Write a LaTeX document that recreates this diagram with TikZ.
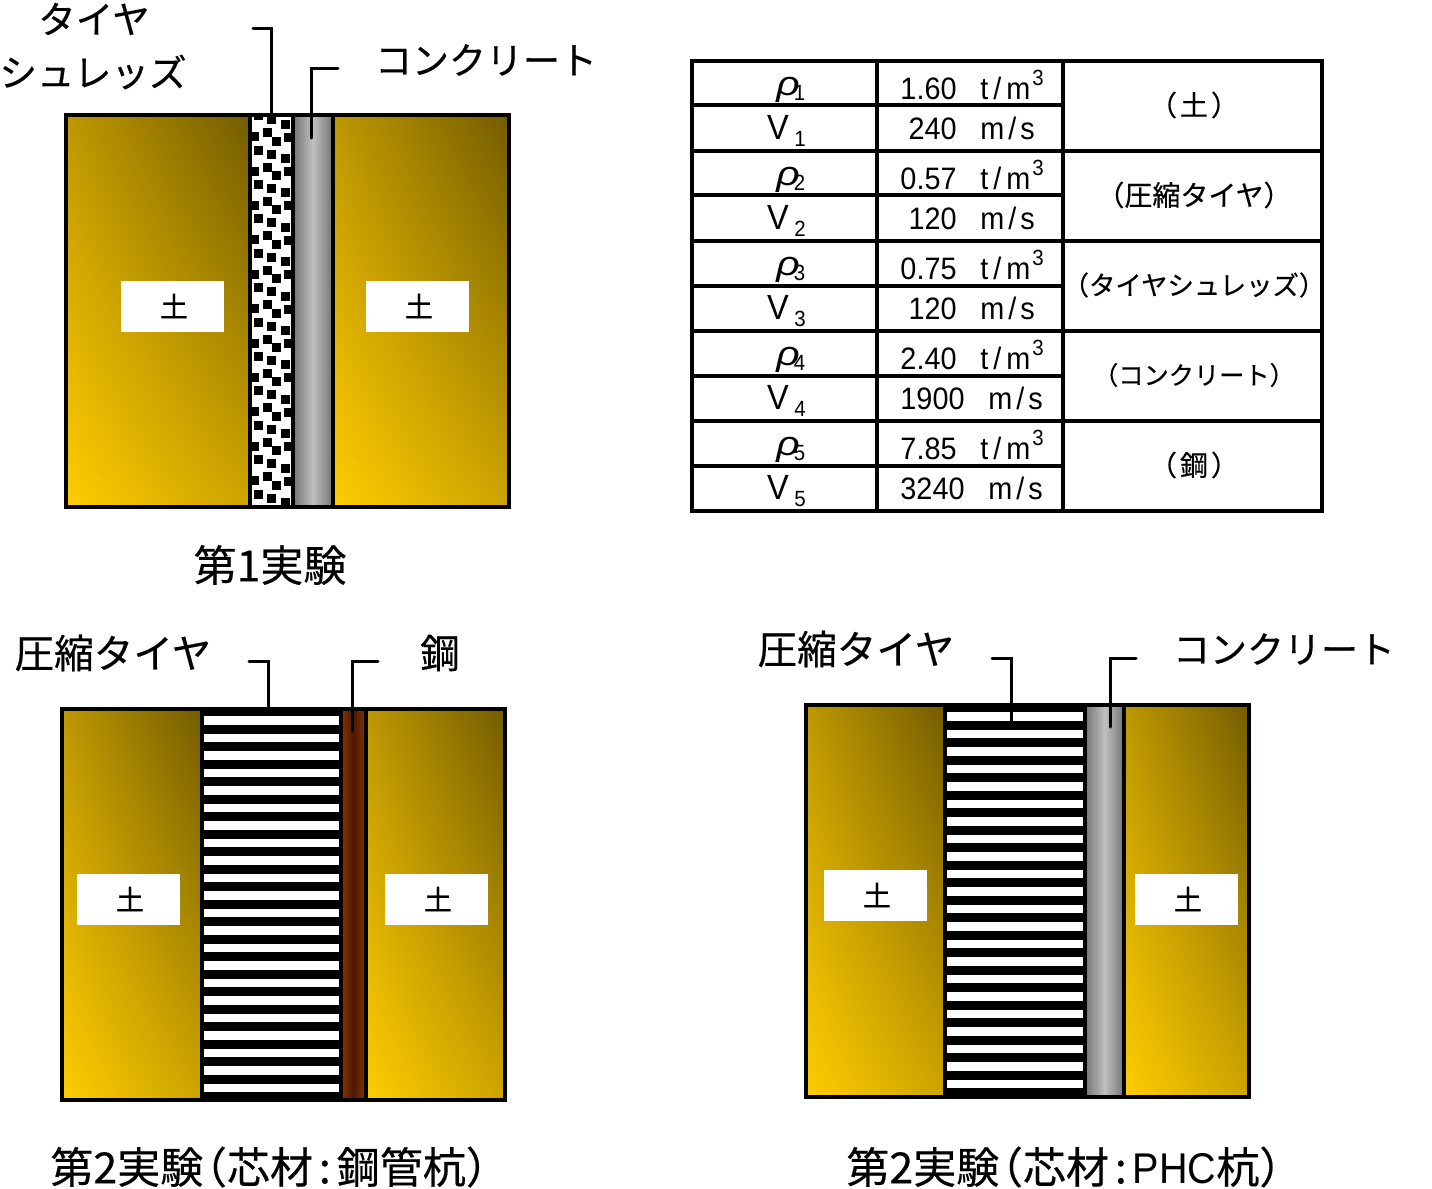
\documentclass[tikz,border=0pt]{standalone}
\usepackage{fontspec}
\usepackage{graphicx}
\usetikzlibrary{shadings}
\setmainfont{Liberation Sans}
\newfontfamily\narrowf[FakeStretch=0.93]{Liberation Sans}
\newfontfamily\phcf[FakeStretch=0.92]{Liberation Sans}
\newfontfamily\jp[RawFeature={embolden=0.4}]{Noto Sans CJK JP}
\definecolor{sLL}{RGB}{255,204,0}
\definecolor{sUR}{RGB}{115,92,0}
\definecolor{sUL}{RGB}{190,152,0}
\definecolor{sLR}{RGB}{205,164,0}
\definecolor{cEdge}{RGB}{115,115,115}
\definecolor{cMid}{RGB}{192,192,192}
\definecolor{stA}{RGB}{140,50,0}
\definecolor{stB}{RGB}{75,25,5}
\newcommand{\tuchi}{\kern2pt\raisebox{-1pt}{土}}
\newcommand{\jfs}[1]{\fontsize{#1pt}{16pt}\selectfont}
\begin{document}
\begin{tikzpicture}[x=0.5pt,y=-0.5pt,
  soil/.style={draw=black,line width=1.65pt},
  lead/.style={draw=black,line width=1.5pt,line cap=round},
  outl/.style={draw=black,line width=1.65pt},
  lab/.style={font=\jp\fontsize{18.8pt}{22pt}\selectfont,inner sep=0pt,anchor=center},
  labb/.style={font=\jp\fontsize{19.8pt}{22pt}\selectfont,inner sep=0pt,anchor=center},
  capt/.style={font=\jp\fontsize{21.5pt}{24pt}\selectfont,inner sep=0pt},
  soilbox/.style={fill=white,minimum width=51.5pt,minimum height=25.5pt,inner sep=0pt,font=\jp\fontsize{14pt}{16pt}\selectfont},
  cellt/.style={font=\narrowf\fontsize{15.5pt}{17pt}\selectfont,inner sep=0pt,anchor=base},
  smalld/.style={font=\narrowf\fontsize{11pt}{12pt}\selectfont,inner sep=0pt,anchor=base},
  jpt/.style={font=\jp,inner sep=0pt,anchor=center},
  rule/.style={draw=black,line width=1.65pt}
]
\useasboundingbox (0,0) rectangle (1432,1189);
\newcommand{\soilLR}[4]{\shade[shading=bilinear interpolation,lower left=sLL,upper right=sUR,upper left=sUL,lower right=sLR] (#1,#2) rectangle (#3,#4);\draw[soil] (#1,#2) rectangle (#3,#4);}
\newcommand{\conc}[4]{\shade[left color=cEdge,right color=cEdge,middle color=cMid] (#1,#2) rectangle (#3,#4);\draw[outl] (#1,#2) rectangle (#3,#4);}
% Panel 1
\soilLR{66}{115}{250}{507}
\soilLR{333}{115}{509}{507}
\fill[white] (250,115) rectangle (293,507);
\begin{scope}
\clip (250,115) rectangle (293,507);
\foreach \r in {-1,0,...,11}{
 \foreach \dx/\dy in {267/132.7,276/141,254/136.7,288/137,258/150,271.7/154,285/158.5}{
   \fill[black] (\dx-4.5,\dy+34.4*\r-4.5) rectangle +(9,9);
 }}
\end{scope}
\draw[outl] (250,115) rectangle (293,507);
\conc{293}{115}{333}{507}
\node[soilbox] (s1) at (172,306) {\tuchi};
\node[soilbox] (s2) at (417,306) {\tuchi};
\coordinate (a1) at (253,28);\coordinate (a2) at (271,28);\coordinate (a3) at (271,122);
\draw[lead] (a1)--(a2)--(a3);
\coordinate (b1) at (338,68);\coordinate (b2) at (311,68);\coordinate (b3) at (311,138);
\draw[lead] (b1)--(b2)--(b3);
\node[lab] (t1) at (94,19) {タイヤ};
\node[lab] (t2) at (93,72) {シュレッズ};
\node[lab,font=\jp\fontsize{18.5pt}{22pt}\selectfont] (t3) at (486,60) {コンクリート};
\node[capt,anchor=center] (c1) at (270,565) {第1実験};
% Panel 2
\soilLR{62}{709}{202}{1100}
\soilLR{366}{709}{505}{1100}
\fill[black] (202,709) rectangle (341,1100);
\foreach \r in {0,1,...,21}{\fill[white] (203.5,716+17.5*\r) rectangle (339,724.5+17.5*\r);}
\shade[left color=stA,right color=stA,middle color=stB] (341,709) rectangle (366,1100);
\draw[outl] (341,709) rectangle (366,1100);
\draw[outl] (202,709) rectangle (341,1100);
\node[soilbox] (s3) at (128,899) {\tuchi};
\node[soilbox] (s4) at (436,899) {\tuchi};
\coordinate (d1) at (249,661);\coordinate (d2) at (268,661);\coordinate (d3) at (268,708);
\draw[lead] (d1)--(d2)--(d3);
\coordinate (e1) at (378,661);\coordinate (e2) at (352,661);\coordinate (e3) at (352,731);
\draw[lead] (e1)--(e2)--(e3);
\node[labb] (t4) at (113,653) {圧縮タイヤ};
\node[labb] (t5) at (440,653) {鋼};
\node[capt,anchor=west] (c2) at (50,1167) {第2実験\kern-0.45em（芯材\kern3pt:\kern3pt 鋼管杭）};
% Panel 3
\soilLR{806}{705}{945}{1097}
\soilLR{1124}{705}{1249}{1097}
\fill[black] (945,705) rectangle (1085,1097);
\foreach \r in {0,1,...,21}{\fill[white] (947,712+17.5*\r) rectangle (1082.5,720.5+17.5*\r);}
\draw[outl] (945,705) rectangle (1085,1097);
\conc{1085}{705}{1124}{1097}
\node[soilbox] (s5) at (875,895) {\tuchi};
\node[soilbox] (s6) at (1186,899) {\tuchi};
\coordinate (f1) at (992,658);\coordinate (f2) at (1011,658);\coordinate (f3) at (1011,724);
\draw[lead] (f1)--(f2)--(f3);
\coordinate (g1) at (1136,658);\coordinate (g2) at (1110,658);\coordinate (g3) at (1110,727);
\draw[lead] (g1)--(g2)--(g3);
\node[labb] (t6) at (856,649) {圧縮タイヤ};
\node[lab,font=\jp\fontsize{18.5pt}{22pt}\selectfont] (t7) at (1284,649) {コンクリート};
\node[capt,anchor=west] (c3) at (846,1167) {第2実験\kern-0.45em（芯材\kern3pt:\kern3pt{\phcf PHC}杭）};
% Table
\draw[rule] (692,61) rectangle (1322,511);
\draw[rule] (877,61) -- (877,511);
\draw[rule] (1063,61) -- (1063,511);
\foreach \y in {151,241,331,421}{\draw[rule] (692,\y) -- (1322,\y);}
\foreach \y in {105,195,286,376,466}{\draw[rule] (692,\y) -- (1063,\y);}
\foreach \i/\yy/\rh/\jt in {1/0/1.60/{\jfs{14}（\kern1.5pt 土\kern1.5pt ）},2/90/0.57/{\jfs{14}（圧縮タイヤ）},3/180/0.75/{\jfs{13.2}（タイヤシュレッズ）},4/270/2.40/{\jfs{12.6}（コンクリート）},5/360/7.85/{\jfs{14}（\kern1.5pt 鋼\kern1.5pt ）}}{
  \node[cellt,anchor=base east] (rv\i) at (957,99+\yy) {\rh};
  \node[cellt,anchor=base west] (ru\i) at (980,99+\yy) {t\kern2.5pt/\kern2.5pt m};
  \node[smalld] (re\i) at (1038,85+\yy) {3};
  \node[inner sep=0pt,anchor=base west] (rl\i) at (776,95+\yy) {\scalebox{1.2}[1]{\fontsize{17pt}{18pt}\selectfont\itshape ρ}\kern-3pt\raisebox{-2.5pt}{\narrowf\fontsize{11pt}{12pt}\selectfont\i}};
  \node[font=\narrowf\fontsize{17.5pt}{18pt}\selectfont,inner sep=0pt,anchor=base] (vl\i) at (778,139+\yy) {V};
  \node[smalld] (vs\i) at (800,146+\yy) {\i};
  \node[jpt] (j\i) at (1194,105+\yy) {\jt};
}
\foreach \i/\yy/\vv/\ux in {1/0/240/980,2/90/120/980,3/180/120/980,4/270/1900/988,5/360/3240/988}{
  \pgfmathsetmacro{\vx}{\ux-23}
  \node[cellt,anchor=base east] (vv\i) at (\vx,139+\yy) {\vv};
  \node[cellt,anchor=base west] (vu\i) at (\ux,139+\yy) {m\kern2pt/\kern2pt s};
}
\end{tikzpicture}
\end{document}
